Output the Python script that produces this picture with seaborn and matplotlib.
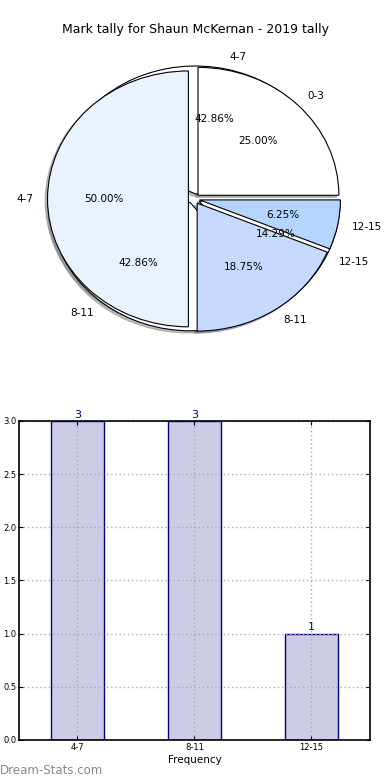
import matplotlib
matplotlib.use('Agg')
import matplotlib.pyplot as plt
import seaborn as sns

# Данные для круговых диаграмм
pie_labels_all = ['0-3', '4-7', '8-11', '12-15']
pie_values_all = [4, 8, 3, 1]
pie_colors_all = ['#ffffff', '#eaf1ff', '#c6d9ff', '#b3d5ff']

pie_labels_2019 = ['4-7', '8-11', '12-15']
pie_values_2019 = [3, 3, 1]

# Данные для гистограммы частот
bar_categories = ['4-7', '8-11', '12-15']
bar_counts = [3, 3, 1]

title = 'Mark tally for Shaun McKernan - 2019 tally'

fig = plt.figure(figsize=(3.9, 7.8), dpi=100)
fig.text(0.5, 1 - 30 / 780, title, ha='center', va='center', fontsize=9)

# Круговые диаграммы (две, одна поверх другой)
ax_pie = fig.add_axes([0.046, 0.54, 0.903, 0.41])
wedge_kw = {'linewidth': 0.8, 'edgecolor': 'black'}
shadow_kw = {'ox': -0.012, 'oy': -0.012, 'shade': 0.5}
ax_pie.pie(pie_values_2019, labels=pie_labels_2019, autopct='%.2f%%',
           colors=['#ffffff'] * 3, explode=[0.04] * 3, shadow=shadow_kw,
           wedgeprops=wedge_kw, textprops={'fontsize': 7.5})
ax_pie.pie(pie_values_all, labels=pie_labels_all, autopct='%.2f%%',
           colors=pie_colors_all, explode=[0.04] * 4, shadow=shadow_kw,
           wedgeprops=wedge_kw, textprops={'fontsize': 7.5})
ax_pie.set_aspect('auto')
ax_pie.set_xlim(-1.25, 1.25)
ax_pie.set_ylim(-1.25, 1.25)

# Столбчатая диаграмма
ax_bar = fig.add_axes([0.0487, 0.0513, 0.9, 0.409])
sns.barplot(x=bar_categories, y=bar_counts, ax=ax_bar, color='#ccccE6',
            saturation=1, width=0.45, edgecolor='navy', linewidth=1)
ax_bar.bar_label(ax_bar.containers[0], color='navy', fontsize=8, padding=1)
ax_bar.set_ylim(0, 3)
ax_bar.set_xlim(-0.5, 2.5)
ax_bar.set_yticks([0, 0.5, 1, 1.5, 2, 2.5, 3])
ax_bar.set_yticklabels(['0.0', '0.5', '1.0', '1.5', '2.0', '2.5', '3.0'])
ax_bar.tick_params(direction='in', labelsize=6, top=True, right=True,
                   length=3, pad=2)
ax_bar.set_axisbelow(False)
ax_bar.grid(True, linestyle=(0, (1, 2)), color='#aaaaaa', linewidth=1)
for spine in ax_bar.spines.values():
    spine.set_visible(True)
    spine.set_color('black')
    spine.set_linewidth(1.2)
    spine.set_zorder(5)
ax_bar.set_xlabel('Frequency', fontsize=7.5, labelpad=2)
ax_bar.set_ylabel('')

fig.text(0.0, 1 - 770 / 780, 'Dream-Stats.com', ha='left', va='center',
         fontsize=8.5, color='#888888')

fig.savefig('out.png', dpi=100)
